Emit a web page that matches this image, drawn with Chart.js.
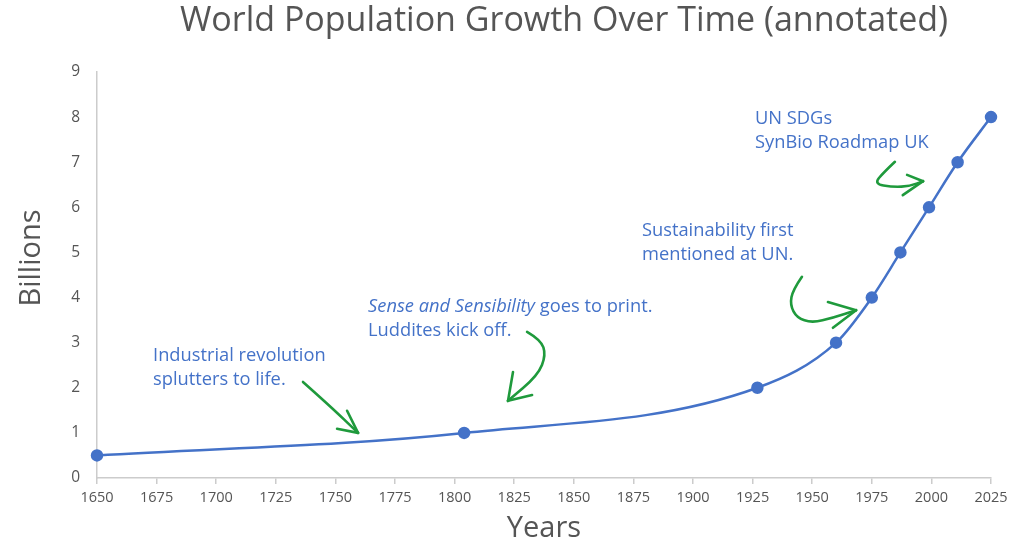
<!DOCTYPE html>
<html>
<head>
<meta charset="utf-8">
<script src="https://cdn.jsdelivr.net/npm/chart.js@4"></script>
<style>
  html, body { margin: 0; padding: 0; background: #ffffff; }
  #wrap { width: 1024px; height: 560px; position: relative; }
</style>
</head>
<body>
<div id="wrap"><canvas id="c" width="1024" height="560"></canvas></div>
<script>
// ---- data ----
const years = [1650, 1804, 1927, 1960, 1975, 1987, 1999, 2011, 2025];
const populationBillions = [0.5, 1, 2, 3, 4, 5, 6, 7, 8];
const xTickValues = [1650, 1675, 1700, 1725, 1750, 1775, 1800, 1825, 1850, 1875, 1900, 1925, 1950, 1975, 2000, 2025];
const yTickValues = [0, 1, 2, 3, 4, 5, 6, 7, 8, 9];

const titleText = 'World Population Growth Over Time (annotated)';
const xTitle = 'Years';
const yTitle = 'Billions';

// annotation notes: anchor [year, billions] of first line's left/middle
const noteLines = [
  [[{t: 'Industrial revolution'}], [{t: 'splutters to life.'}]],
  [[{t: 'Sense and Sensibility', i: true}, {t: ' goes to print.'}], [{t: 'Luddites kick off.'}]],
  [[{t: 'Sustainability first'}], [{t: 'mentioned at UN.'}]],
  [[{t: 'UN SDGs'}], [{t: 'SynBio Roadmap UK'}]]
];
const noteAnchors = [[1673.5, 2.70], [1763.7, 3.79], [1878.6, 5.48], [1926.0, 7.96]];

// arrows: stroke path points and head end points, in [year, billions]
const arrowPaths = [
  [[1736.4, 2.13], [1747.7, 1.60], [1759.5, 1.00]],
  [[1830.4, 3.24], [1836.2, 3.06], [1838.3, 2.73], [1835.0, 2.28], [1822.4, 1.71]],
  [[1945.7, 4.46], [1941.9, 4.17], [1940.7, 3.84], [1943.6, 3.55], [1949.9, 3.44], [1958.7, 3.55], [1968.4, 3.72]],
  [[1984.7, 7.01], [1980.1, 6.78], [1975.9, 6.52], [1983.9, 6.45], [1991.0, 6.47], [1996.5, 6.58]]
];
const arrowHeads = [
  [[1750.7, 1.09], [1754.9, 1.49]],
  [[1824.5, 2.35], [1832.5, 1.84]],
  [[1956.6, 3.90], [1958.7, 3.33]],
  [[1989.8, 6.72], [1988.0, 6.27]]
];

const BLUE = '#4472c8';
const GREEN = '#1f9a3c';
const GREY = '#555555';
const AXIS = '#cccccc';

const annotPlugin = {
  id: 'annot',
  afterDatasetsDraw(chart) {
    const ctx = chart.ctx;
    const xs = chart.scales.x, ys = chart.scales.y;
    const px = p => [xs.getPixelForValue(p[0]), ys.getPixelForValue(p[1])];
    ctx.save();
    // arrows
    ctx.strokeStyle = GREEN;
    ctx.lineWidth = 2.6;
    ctx.lineCap = 'round';
    ctx.lineJoin = 'round';
    arrowPaths.forEach((path, k) => {
      const pts = path.map(px);
      ctx.beginPath();
      ctx.moveTo(pts[0][0], pts[0][1]);
      for (let i = 1; i < pts.length - 1; i++) {
        const mx = (pts[i][0] + pts[i + 1][0]) / 2;
        const my = (pts[i][1] + pts[i + 1][1]) / 2;
        ctx.quadraticCurveTo(pts[i][0], pts[i][1], mx, my);
      }
      const last = pts[pts.length - 1];
      ctx.lineTo(last[0], last[1]);
      ctx.stroke();
      arrowHeads[k].forEach(h => {
        const hp = px(h);
        ctx.beginPath();
        ctx.moveTo(hp[0], hp[1]);
        ctx.lineTo(last[0], last[1]);
        ctx.stroke();
      });
    });
    // notes
    ctx.fillStyle = BLUE;
    ctx.textBaseline = 'middle';
    ctx.textAlign = 'left';
    noteLines.forEach((lines, k) => {
      const a = px(noteAnchors[k]);
      lines.forEach((segs, li) => {
        let x = a[0];
        const y = a[1] + li * 23.5;
        segs.forEach(s => {
          ctx.font = (s.i ? 'italic ' : '') + '18.3px "Open Sans", sans-serif';
          ctx.fillText(s.t, x, y);
          x += ctx.measureText(s.t).width;
        });
      });
    });
    ctx.restore();
  },
  afterDraw(chart) {
    const ctx = chart.ctx;
    ctx.save();
    ctx.fillStyle = GREY;
    ctx.font = '34px "Open Sans", sans-serif';
    ctx.textAlign = 'center';
    ctx.textBaseline = 'middle';
    ctx.fillText(titleText, 564, 21);
    // y axis title
    ctx.translate(32, 258);
    ctx.rotate(-Math.PI / 2);
    ctx.font = '29px "Open Sans", sans-serif';
    ctx.fillText(yTitle, 0, 0);
    ctx.restore();
  }
};

new Chart(document.getElementById('c'), {
  type: 'line',
  data: {
    datasets: [{
      data: years.map((y, i) => ({x: y, y: populationBillions[i]})),
      borderColor: BLUE,
      backgroundColor: BLUE,
      borderWidth: 2.5,
      pointRadius: 5,
      pointHoverRadius: 5,
      pointBackgroundColor: BLUE,
      pointBorderColor: BLUE,
      cubicInterpolationMode: 'monotone',
      clip: false
    }]
  },
  options: {
    responsive: false,
    animation: false,
    devicePixelRatio: 1,
    layout: { padding: { top: 72, right: 33, left: 0, bottom: 0 } },
    plugins: {
      legend: { display: false },
      title: { display: false },
      tooltip: { enabled: false }
    },
    scales: {
      x: {
        type: 'linear',
        min: xTickValues[0],
        max: xTickValues[xTickValues.length - 1],
        afterBuildTicks: s => { s.ticks = xTickValues.map(v => ({value: v})); },
        afterFit: s => { s.height = 82; },
        border: { display: true, color: AXIS, width: 1.5 },
        grid: { drawOnChartArea: false, drawTicks: true, tickLength: 6, color: AXIS, lineWidth: 1.5 },
        ticks: {
          color: GREY,
          font: { family: '"Open Sans", sans-serif', size: 14.5 },
          padding: 5,
          maxRotation: 0,
          autoSkip: false,
          callback: v => String(v)
        },
        title: {
          display: true,
          text: xTitle,
          color: GREY,
          font: { family: '"Open Sans", sans-serif', size: 29 },
          padding: { top: 0, bottom: 14 }
        }
      },
      y: {
        type: 'linear',
        min: yTickValues[0],
        max: yTickValues[yTickValues.length - 1],
        afterBuildTicks: s => { s.ticks = yTickValues.map(v => ({value: v})); },
        afterFit: s => { s.width = 97; },
        border: { display: true, color: AXIS, width: 1.5 },
        grid: { drawOnChartArea: false, drawTicks: false },
        ticks: {
          color: GREY,
          font: { family: '"Open Sans", sans-serif', size: 15.5 },
          padding: 17,
          callback: v => String(v)
        },
        title: { display: false }
      }
    }
  },
  plugins: [annotPlugin]
});
</script>
</body>
</html>
